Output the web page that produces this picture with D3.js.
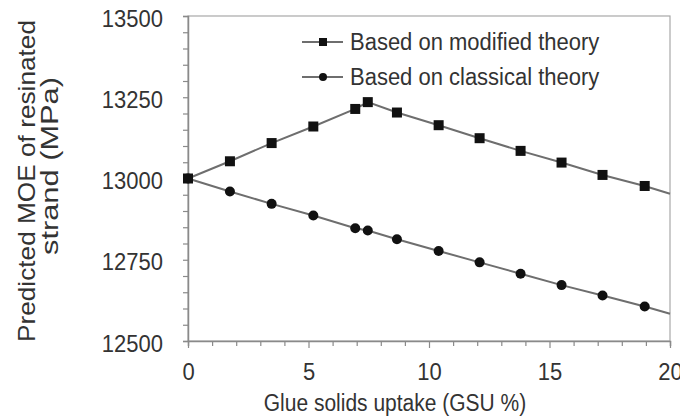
<!DOCTYPE html>
<html>
<head>
<meta charset="utf-8">
<script src="https://cdn.jsdelivr.net/npm/d3@7"></script>
<style>
  html, body { margin: 0; padding: 0; background: #fff; }
  svg { display: block; font-family: "Liberation Sans", Arial, sans-serif; }
</style>
</head>
<body>
<svg id="chart" width="680" height="419"></svg>
<script>
// ---- data ----
const gsu        = [0, 1.74, 3.47, 5.2, 6.94, 7.46, 8.67, 10.4, 12.1, 13.8, 15.5, 17.2, 18.95, 20];
const modified   = [13000, 13053, 13109, 13160, 13214, 13235, 13203, 13164, 13124, 13085, 13049, 13011, 12977, 12953];
const classical  = [13000, 12960, 12922, 12886, 12847, 12840, 12813, 12777, 12742, 12707, 12672, 12640, 12606, 12584];
const markerCount = 13; // last point is where the drawn line meets the frame, no marker
const yTicks = [12500, 12750, 13000, 13250, 13500];
const xTicks = [0, 5, 10, 15, 20];
const seriesNames = ["Based on modified theory", "Based on classical theory"];
const xTitle = "Glue solids uptake (GSU  %)";
const yTitle = ["Predicted MOE of resinated", "strand (MPa)"];

// ---- layout ----
const svg = d3.select("#chart");
const L = 188, R = 670, T = 16, B = 341;
const x = d3.scaleLinear().domain([0, 20]).range([L, R]);
const y = d3.scaleLinear().domain([12500, 13500]).range([B, T]);
const textCol = "#333";
const axisCol = "#8a8a8a";
const lineCol = "#6e6e6e";
const VS = 1.1; // reference text is slightly taller than wide

// frame
svg.append("rect").attr("x", L).attr("y", T).attr("width", R - L).attr("height", B - T)
  .attr("fill", "none").attr("stroke", "#a8a8a8").attr("stroke-width", 1.2);

// y axis
const yAxis = d3.axisLeft(y).tickValues(d3.range(12500, 13501, 50)).tickSize(5)
  .tickFormat(d => yTicks.includes(d) ? d : "");
const gy = svg.append("g").attr("transform", `translate(${L},0)`).call(yAxis);
gy.select(".domain").attr("stroke", axisCol).attr("stroke-width", 1.5);
gy.selectAll(".tick line").attr("stroke", axisCol).attr("stroke-width", 1.2);
gy.selectAll(".tick text").attr("fill", textCol).attr("font-size", 22)
  .attr("font-family", "Liberation Sans, Arial, sans-serif")
  .attr("x", 0).attr("y", 0).attr("dy", null)
  .attr("transform", `translate(-25,10) scale(1,${VS})`);

// x axis
const xAxis = d3.axisBottom(x).tickValues(d3.range(0, 20.01, 1)).tickSize(5)
  .tickFormat(d => xTicks.includes(d) ? d : "");
const gx = svg.append("g").attr("transform", `translate(0,${B})`).call(xAxis);
gx.select(".domain").attr("stroke", axisCol).attr("stroke-width", 1.5);
gx.selectAll(".tick line").attr("stroke", axisCol).attr("stroke-width", 1.2)
  .attr("y2", d => xTicks.includes(d) ? 7 : 5);
gx.selectAll(".tick text").attr("fill", textCol).attr("font-size", 22)
  .attr("font-family", "Liberation Sans, Arial, sans-serif")
  .attr("y", 0).attr("dy", null)
  .attr("transform", `translate(0,39) scale(1,${VS})`);

// titles
svg.append("text").attr("transform", `translate(395,411) scale(1,${VS})`).attr("text-anchor", "middle")
  .attr("font-size", 21).attr("fill", textCol).text(xTitle);
svg.append("text").attr("transform", "translate(35,181) rotate(-90)").attr("text-anchor", "middle")
  .attr("font-size", 24).attr("fill", textCol)
  .attr("textLength", 322).attr("lengthAdjust", "spacingAndGlyphs").text(yTitle[0]);
svg.append("text").attr("transform", "translate(58,166) rotate(-90)").attr("text-anchor", "middle")
  .attr("font-size", 23).attr("fill", textCol)
  .attr("textLength", 178).attr("lengthAdjust", "spacingAndGlyphs").text(yTitle[1]);

// lines
const pts = (vals) => gsu.map((g, i) => [g, vals[i]]);
const line = d3.line().x(d => x(d[0])).y(d => y(d[1]));
[modified, classical].forEach(vals => {
  svg.append("path").datum(pts(vals)).attr("d", line)
    .attr("fill", "none").attr("stroke", lineCol).attr("stroke-width", 2);
});

// markers
const sq = 10;
svg.append("g").selectAll("rect").data(pts(modified).slice(0, markerCount)).join("rect")
  .attr("x", d => x(d[0]) - sq / 2).attr("y", d => y(d[1]) - sq / 2)
  .attr("width", sq).attr("height", sq).attr("fill", "#111");
svg.append("g").selectAll("circle").data(pts(classical).slice(0, markerCount)).join("circle")
  .attr("cx", d => x(d[0])).attr("cy", d => y(d[1])).attr("r", 5).attr("fill", "#111");

// legend
const legY = [42, 77];
seriesNames.forEach((name, i) => {
  const g = svg.append("g").attr("transform", `translate(0,${legY[i]})`);
  g.append("line").attr("x1", 302).attr("x2", 343).attr("y1", 0).attr("y2", 0)
    .attr("stroke", lineCol).attr("stroke-width", 2);
  if (i === 0) {
    g.append("rect").attr("x", 323 - 4).attr("y", -4).attr("width", 8).attr("height", 8).attr("fill", "#111");
  } else {
    g.append("circle").attr("cx", 323).attr("cy", 0).attr("r", 4).attr("fill", "#111");
  }
  g.append("text").attr("transform", `translate(350,8) scale(1,${VS})`)
    .attr("font-size", 22).attr("fill", textCol).text(name);
});
</script>
</body>
</html>
